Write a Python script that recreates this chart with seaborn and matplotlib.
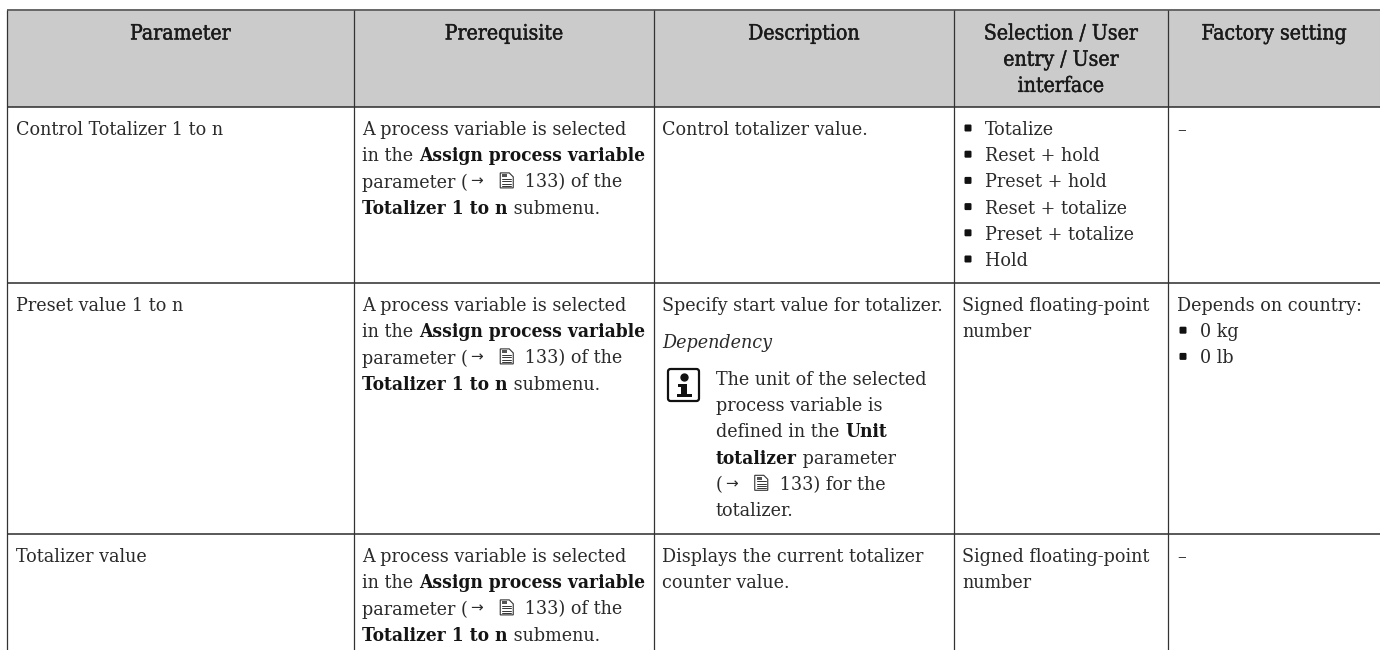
import matplotlib
matplotlib.use("Agg")
import matplotlib.pyplot as plt
import matplotlib.patheffects as pe
from matplotlib.patches import FancyBboxPatch, Rectangle, Polygon
import seaborn as sns

# ---- table content ----
headers = [["Parameter"], ["Prerequisite"], ["Description"],
           ["Selection / User", "entry / User", "interface"], ["Factory setting"]]
row_names = ["Control Totalizer 1 to n", "Preset value 1 to n", "Totalizer value"]
selection_options = ["Totalize", "Reset + hold", "Preset + hold", "Reset + totalize", "Preset + totalize", "Hold"]
prereq_lines = [[("A process variable is selected", False)],
                [("in the ", False), ("Assign process variable", True)],
                [("parameter (", False), ("→", False), ("@", False), (" 133) of the", False)],
                [("Totalizer 1 to n", True), (" submenu.", False)]]
desc_row1 = ["Control totalizer value."]
desc_row2 = "Specify start value for totalizer."
dependency = "Dependency"
note_lines = [[("The unit of the selected", False)],
              [("process variable is", False)],
              [("defined in the ", False), ("Unit", True)],
              [("totalizer", True), (" parameter", False)],
              [("(", False), ("→", False), ("@", False), (" 133) for the", False)],
              [("totalizer.", False)]]
desc_row3 = ["Displays the current totalizer", "counter value."]
signed = ["Signed floating-point", "number"]
factory_row2 = "Depends on country:"
factory_units = ["0 kg", "0 lb"]
dash = "–"

# ---- layout (pixels) ----
COL = [6.5, 354, 654, 954, 1168, 1380]
ROW = [9.5, 106.5, 282.5, 534, 650]
LH = 26.2
FS = 14.0
FS_BOLD = 13.7
FS_HEAD = 15.2
SERIF = "DejaVu Serif"
COLOR = "#2a2a2a"

sns.set_theme(style="white")
fig = plt.figure(figsize=(13.8, 6.5), dpi=100)
ax = fig.add_axes([0, 0, 1, 1])
ax.set_xlim(0, 1380)
ax.set_ylim(650, 0)
ax.axis("off")
sns.despine(ax=ax, left=True, bottom=True)

ax.add_patch(Rectangle((COL[0], ROW[0]), COL[-1] - COL[0], ROW[1] - ROW[0], fc="#cbcbcb", ec="none", zorder=0))
ax.hlines(ROW[0], COL[0], COL[-1], color="#666666", lw=1.4)
ax.hlines(ROW[1:4], COL[0], COL[-1], color="#2b2b2b", lw=1.1)
ax.vlines(COL[:-1], ROW[0], ROW[-1], color="#333333", lw=0.9)

renderer = fig.canvas.get_renderer()
BASE = dict(family=SERIF, stretch="condensed", va="center_baseline")
KW = dict(size=FS, color=COLOR, **BASE)
KW_BOLD = dict(size=FS_BOLD, color="#141414", fontweight="bold", **BASE)


def width(s, kw):
    t = ax.text(0, 0, "x" + s + "x", **kw)
    w1 = t.get_window_extent(renderer).width
    t.set_text("xx")
    w0 = t.get_window_extent(renderer).width
    t.remove()
    return w1 - w0


def book(x, y):
    ax.add_patch(Polygon([(x, y - 7.5), (x + 9, y - 7.5), (x + 13, y - 3.5), (x + 13, y + 7.5), (x, y + 7.5)],
                         closed=True, fc="white", ec="#333333", lw=0.8))
    for dy in (-1.5, 1, 3.5, 5.5):
        ax.plot([x + 2, x + 11], [y + dy, y + dy], color="#333333", lw=0.7)
    ax.add_patch(Rectangle((x + 2, y - 6), 5, 3, fc="#555555", ec="none"))


def runs(x, y, parts):
    for s, bold in parts:
        if s == "@":
            book(x + 32, y)
            x += 51
        elif s == "→":
            ax.text(x + 2, y - 0.5, s, family="DejaVu Sans", size=11, color=COLOR, va="center_baseline")
        else:
            kw = KW_BOLD if bold else KW
            ax.text(x, y, s, **kw)
            x += width(s, kw)


def line(x, y, s):
    ax.text(x, y, s, **KW)


def bullet(x, y):
    ax.add_patch(FancyBboxPatch((x - 3.5, y - 3.5), 7, 7, boxstyle="round,pad=0,rounding_size=1.2",
                                fc="#111111", ec="none"))


# headers
centres = [(COL[i] + COL[i + 1]) / 2 for i in range(5)]
stroke = [pe.withStroke(linewidth=0.3, foreground="#1a1a1a")]
for cx, lines in zip(centres, headers):
    for i, s in enumerate(lines):
        ax.text(cx, 32 + i * LH, s, ha="center", size=FS_HEAD, color="#1a1a1a", path_effects=stroke, **BASE)

# first column
for y, s in zip([128, 304, 555], row_names):
    line(16, y, s)

# prerequisite column
for top in (128, 304, 555):
    for i, parts in enumerate(prereq_lines):
        runs(362.5, top + i * LH, parts)

# description column
line(662, 128, desc_row1[0])
line(662, 304, desc_row2)
ax.text(662, 341, dependency, style="italic", **KW)
for i, s in enumerate(desc_row3):
    line(662, 555 + i * LH, s)

# note icon and text
ax.add_patch(FancyBboxPatch((668, 369), 31, 32, boxstyle="round,pad=0,rounding_size=2.5", fc="white", ec="#111111", lw=1.6))
ax.add_patch(Rectangle((681, 384), 6, 11, fc="#111111", ec="none"))
ax.add_patch(Rectangle((677, 393.5), 15, 3.5, fc="#111111", ec="none"))
ax.add_patch(Rectangle((678, 384), 5, 3, fc="#111111", ec="none"))
ax.plot([684], [377], "o", ms=5, color="#111111")
for i, parts in enumerate(note_lines):
    runs(716, 378 + i * LH, parts)

# selection column
for i, s in enumerate(selection_options):
    bullet(968, 128 + i * LH)
    line(985, 128 + i * LH, s)
for top in (304, 555):
    for i, s in enumerate(signed):
        line(962, top + i * LH, s)

# factory column
line(1177, 128, dash)
line(1177, 304, factory_row2)
for i, s in enumerate(factory_units):
    bullet(1183, 304 + (i + 1) * LH)
    line(1200, 304 + (i + 1) * LH, s)
line(1177, 555, dash)

fig.savefig("out.png", dpi=100)
